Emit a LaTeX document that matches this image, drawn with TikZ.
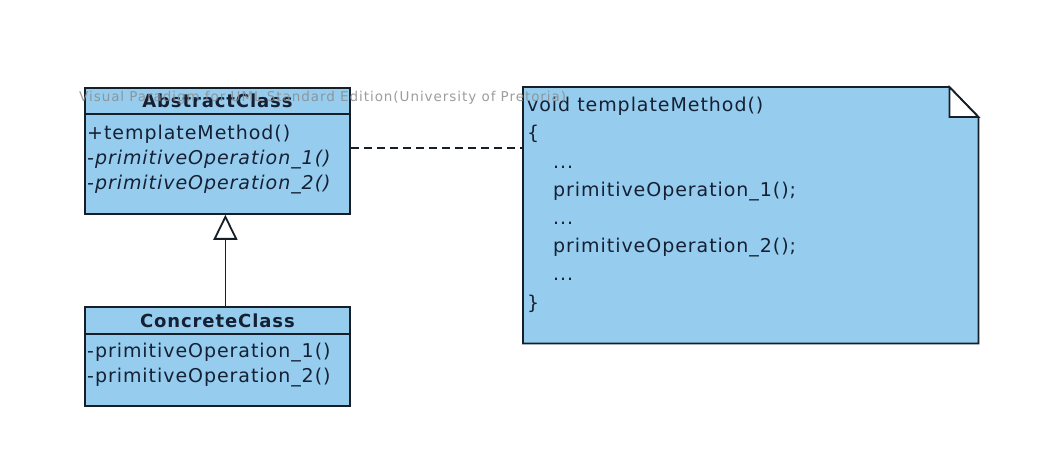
\documentclass[tikz,border=0pt]{standalone}
\usepackage{fontspec}
\newfontfamily\umlfont[LetterSpace=5]{DejaVu Sans}
\newfontfamily\wmfont[LetterSpace=7]{DejaVu Sans}
\usetikzlibrary{arrows.meta}
\definecolor{umlfill}{RGB}{150,205,238}
\definecolor{umlline}{RGB}{22,30,40}
\definecolor{umltext}{RGB}{22,32,52}
\definecolor{wmgray}{RGB}{140,140,140}
\begin{document}
\begin{tikzpicture}[x=1bp,y=-1bp,
  box/.style={draw=umlline, line width=1.8bp, fill=umlfill, inner sep=0pt, anchor=north west},
  txt/.style={text=umltext, inner sep=0pt, font=\umlfont\fontsize{19bp}{25bp}\selectfont},
  hdr/.style={txt, font=\umlfont\bfseries\fontsize{18bp}{22bp}\selectfont},
  notetxt/.style={text=umltext, inner sep=0pt, align=left, anchor=north west,
    font=\umlfont\fontsize{19bp}{28.2bp}\selectfont},
  conn/.style={draw=umlline, line width=1.8bp}
]
\useasboundingbox[fill=white] (0,0) rectangle (1049,462);

% AbstractClass
\node[box, minimum width=265bp, minimum height=26bp] (absH) at (84,87) {};
\node[box, minimum width=265bp, minimum height=100bp] (absB) at (84,113) {};
\node[hdr] (absHt) at (absH.center) {AbstractClass};
\node[txt, align=left, anchor=north west] (absOps) at (87,125)
  {+templateMethod()\\\textit{-primitiveOperation\_1()}\\\textit{-primitiveOperation\_2()}};

% ConcreteClass
\node[box, minimum width=265bp, minimum height=27bp] (conH) at (84,306) {};
\node[box, minimum width=265bp, minimum height=72bp] (conB) at (84,333) {};
\node[hdr] (conHt) at (conH.center) {ConcreteClass};
\node[txt, align=left, anchor=north west] (conOps) at (87,343)
  {-primitiveOperation\_1()\\-primitiveOperation\_2()};

% Note
\node[inner sep=0pt, anchor=north west, minimum width=455bp, minimum height=256bp] (note) at (523,87) {};
\draw[conn, fill=umlfill] (note.north west) -- ([xshift=-29bp]note.north east)
  -- ([yshift=-30bp]note.north east) -- (note.south east) -- (note.south west) -- cycle;
\draw[conn, fill=white, line join=miter] ([xshift=-29bp]note.north east) -- ([xshift=-29bp,yshift=-30bp]note.north east)
  -- ([yshift=-30bp]note.north east) -- cycle;
\node[notetxt] (noteTxt) at (527,97)
  {void templateMethod()\\
   \{\\
   \hspace*{26bp}...\\
   \hspace*{26bp}primitiveOperation\_1();\\
   \hspace*{26bp}...\\
   \hspace*{26bp}primitiveOperation\_2();\\
   \hspace*{26bp}...\\
   \}};

% Connectors
\draw[conn, -{Triangle[open, fill=white, length=25bp, width=24bp]}] ([xshift=8bp]conH.north) -- ([xshift=8bp]absB.south);
\coordinate (dashL) at ([yshift=16bp]absB.east);
\draw[conn, dashed, dash pattern=on 8bp off 5bp] (dashL) -- (dashL -| note.west);

% Watermark
\node[text=wmgray, inner sep=0pt, anchor=west, font=\wmfont\fontsize{13.5bp}{15bp}\selectfont, opacity=0.85] (wm) at (79,98)
  {Visual Paradigm for UML Standard Edition(University of Pretoria)};
\end{tikzpicture}
\end{document}
